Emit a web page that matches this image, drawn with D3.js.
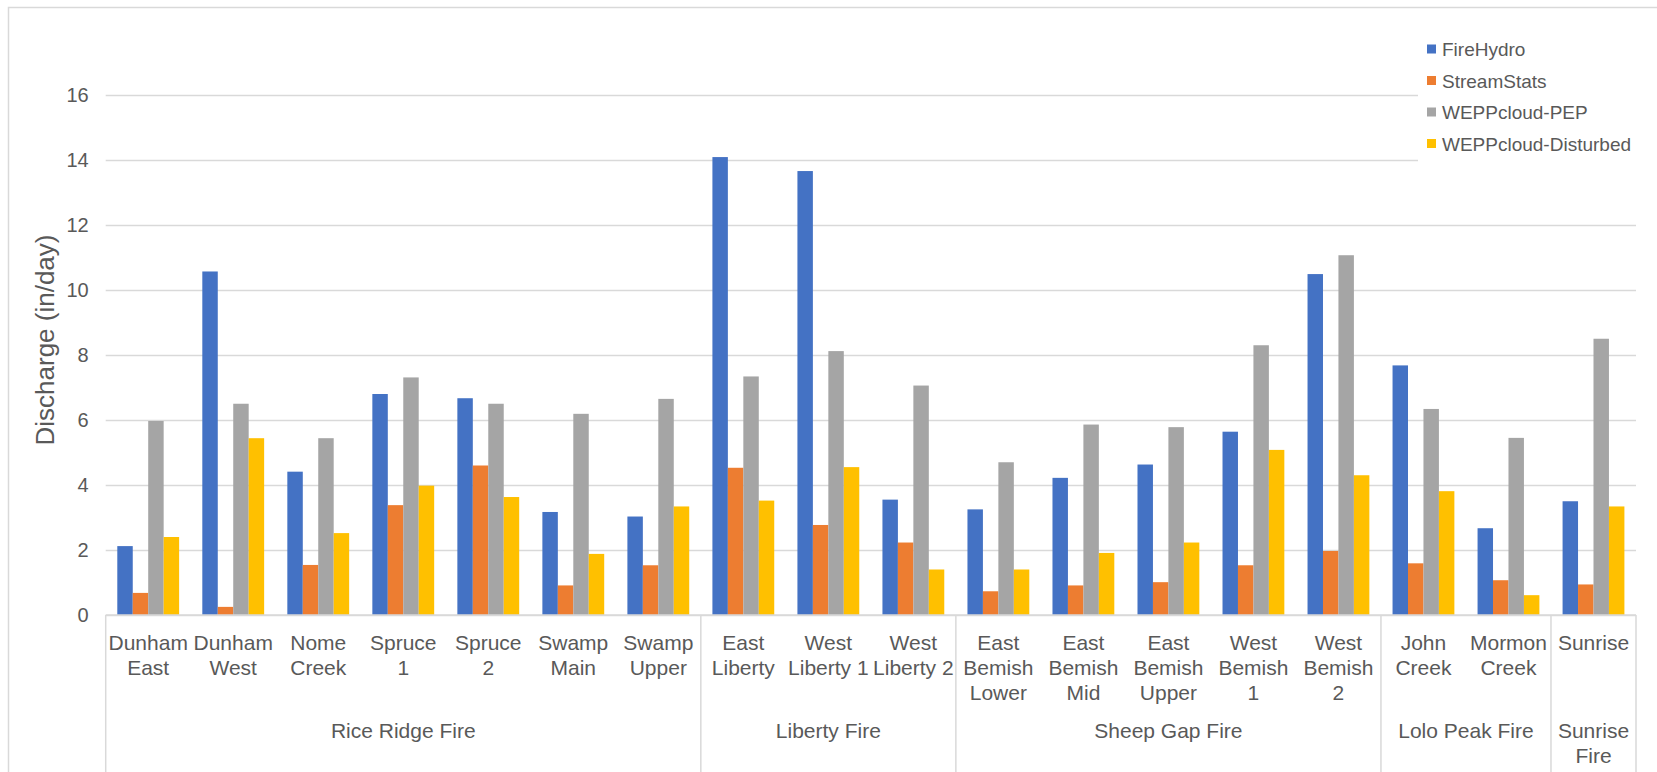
<!DOCTYPE html>
<html>
<head>
<meta charset="utf-8">
<script src="https://cdn.jsdelivr.net/npm/d3@7"></script>
<style>
  html, body { margin: 0; padding: 0; background: #fff; }
  svg { display: block; font-family: "Liberation Sans", Arial, sans-serif; }
</style>
</head>
<body>
<svg id="chart" width="1657" height="772"></svg>
<script>
// Sub-watershed labels (one entry per line of text)
const categories = [
  ["Dunham", "East"], ["Dunham", "West"], ["Nome", "Creek"], ["Spruce", "1"],
  ["Spruce", "2"], ["Swamp", "Main"], ["Swamp", "Upper"],
  ["East", "Liberty"], ["West", "Liberty 1"], ["West", "Liberty 2"],
  ["East", "Bemish", "Lower"], ["East", "Bemish", "Mid"], ["East", "Bemish", "Upper"],
  ["West", "Bemish", "1"], ["West", "Bemish", "2"],
  ["John", "Creek"], ["Mormon", "Creek"],
  ["Sunrise"]
];

// Fire groups: label lines and number of sub-watersheds in each
const groupLabels = [["Rice Ridge Fire"], ["Liberty Fire"], ["Sheep Gap Fire"], ["Lolo Peak Fire"], ["Sunrise", "Fire"]];
const groupSizes = [7, 3, 5, 2, 1];

const seriesNames = ["FireHydro", "StreamStats", "WEPPcloud-PEP", "WEPPcloud-Disturbed"];
const seriesColors = ["#4472C4", "#ED7D31", "#A5A5A5", "#FFC000"];

// Peak discharge, in/day
const fireHydro   = [2.12, 10.57, 4.41, 6.80, 6.67, 3.17, 3.03, 14.09, 13.66, 3.55, 3.25, 4.22, 4.63, 5.64, 10.49, 7.68, 2.67, 3.50];
const streamStats = [0.68, 0.25, 1.54, 3.38, 4.60, 0.91, 1.53, 4.53, 2.77, 2.23, 0.73, 0.91, 1.01, 1.53, 1.97, 1.59, 1.07, 0.94];
const weppPEP     = [5.97, 6.50, 5.44, 7.31, 6.50, 6.19, 6.65, 7.34, 8.12, 7.06, 4.70, 5.86, 5.78, 8.30, 11.07, 6.34, 5.45, 8.50];
const weppDist    = [2.40, 5.44, 2.52, 3.98, 3.63, 1.88, 3.34, 3.52, 4.55, 1.40, 1.40, 1.91, 2.23, 5.08, 4.30, 3.81, 0.61, 3.34];

const yTicks = [0, 2, 4, 6, 8, 10, 12, 14, 16];

const seriesValues = [fireHydro, streamStats, weppPEP, weppDist];

const svg = d3.select("#chart");
const textColor = "#595959";
const lineColor = "#D9D9D9";

const plotLeft = 105.7, plotRight = 1636, plotTop = 95, plotBottom = 615;

// outer frame
svg.append("rect")
  .attr("x", 8.5).attr("y", 7.5).attr("width", 1700).attr("height", 800)
  .attr("fill", "#fff").attr("stroke", lineColor).attr("stroke-width", 1.5);

const catIndex = d3.range(categories.length);
const x0 = d3.scaleBand().domain(catIndex).range([plotLeft, plotRight]).paddingInner(0).paddingOuter(0);
const x1 = d3.scaleBand().domain(d3.range(seriesNames.length)).range([0, x0.bandwidth()])
  .paddingInner(0).paddingOuter(0.75);
const y = d3.scaleLinear().domain([0, 16]).range([plotBottom, plotTop]);

// gridlines + y tick labels
const yAxis = d3.axisLeft(y).tickValues(yTicks).tickSize(-(plotRight - plotLeft)).tickPadding(17).tickFormat(d3.format("d"));
const gy = svg.append("g").attr("transform", `translate(${plotLeft},0)`).call(yAxis);
gy.select(".domain").remove();
gy.selectAll(".tick line").attr("stroke", lineColor).attr("stroke-width", 1.5);
gy.selectAll(".tick text").attr("fill", textColor).style("font-size", "20px")
  .style("font-family", "'Liberation Sans', Arial, sans-serif");

// bars
const barG = svg.append("g");
seriesValues.forEach((vals, s) => {
  barG.append("g").selectAll("rect").data(vals).join("rect")
    .attr("x", (d, i) => x0(i) + x1(s))
    .attr("y", d => y(d))
    .attr("width", x1.bandwidth())
    .attr("height", d => y(0) - y(d))
    .attr("fill", seriesColors[s]);
});

// baseline
svg.append("line").attr("x1", plotLeft).attr("x2", plotRight).attr("y1", plotBottom).attr("y2", plotBottom)
  .attr("stroke", lineColor).attr("stroke-width", 1.5);

// category labels
const catG = svg.append("g").attr("fill", textColor).style("font-size", "21px").attr("text-anchor", "middle");
categories.forEach((lines, i) => {
  const cx = x0(i) + x0.bandwidth() / 2;
  const t = catG.append("text");
  lines.forEach((ln, k) => t.append("tspan").attr("x", cx).attr("y", 650 + k * 25).text(ln));
});

// group separators and labels
let acc = 0;
const boundaries = [0];
groupSizes.forEach(n => { acc += n; boundaries.push(acc); });
const edgeX = b => (b < categories.length ? x0(b) : plotRight);
boundaries.forEach(b => {
  svg.append("line").attr("x1", edgeX(b)).attr("x2", edgeX(b)).attr("y1", plotBottom).attr("y2", 772)
    .attr("stroke", lineColor).attr("stroke-width", 1.5);
});
const grpG = svg.append("g").attr("fill", textColor).style("font-size", "21px").attr("text-anchor", "middle");
groupLabels.forEach((lines, g) => {
  const cx = (edgeX(boundaries[g]) + edgeX(boundaries[g + 1])) / 2;
  const t = grpG.append("text");
  lines.forEach((ln, k) => t.append("tspan").attr("x", cx).attr("y", 738 + k * 25).text(ln));
});

// y axis title
svg.append("text")
  .attr("transform", "translate(54,340) rotate(-90)")
  .attr("text-anchor", "middle").attr("fill", textColor).style("font-size", "26px")
  .text("Discharge (in/day)");

// legend
const lg = svg.append("g");
lg.append("rect").attr("x", 1418).attr("y", 28).attr("width", 218).attr("height", 134).attr("fill", "#fff");
seriesNames.forEach((name, s) => {
  const cy = 49 + s * 31.5;
  lg.append("rect").attr("x", 1427).attr("y", cy - 4.5).attr("width", 9).attr("height", 9).attr("fill", seriesColors[s]);
  lg.append("text").attr("x", 1442).attr("y", cy + 7).attr("fill", textColor).style("font-size", "19px").text(name);
});
</script>
</body>
</html>
